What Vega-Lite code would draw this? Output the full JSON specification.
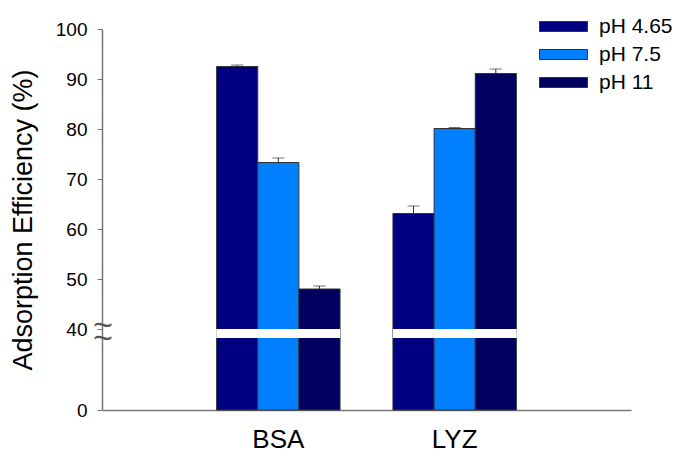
{
  "$schema": "https://vega.github.io/schema/vega-lite/v6.json",
  "width": 529,
  "height": 381,
  "autosize": "none",
  "padding": {"left": 102, "top": 29, "right": 54, "bottom": 55},
  "config": {
    "view": {"stroke": null},
    "font": "Liberation Sans",
    "axis": {"labelFont": "Liberation Sans", "titleFont": "Liberation Sans"},
    "legend": {"labelFont": "Liberation Sans"}
  },
  "data": {
    "values": [
      {"sample": "BSA", "pH": "pH 4.65", "value": 92.5, "upper": 92.8},
      {"sample": "BSA", "pH": "pH 7.5", "value": 73.3, "upper": 74.2},
      {"sample": "BSA", "pH": "pH 11", "value": 48.0, "upper": 48.6},
      {"sample": "LYZ", "pH": "pH 4.65", "value": 63.1, "upper": 64.6},
      {"sample": "LYZ", "pH": "pH 7.5", "value": 80.1, "upper": 80.3},
      {"sample": "LYZ", "pH": "pH 11", "value": 91.1, "upper": 92.0}
    ]
  },
  "layer": [
    {
      "layer": [
        {
          "mark": {"type": "bar", "stroke": "#333333", "strokeWidth": 1},
          "encoding": {
            "x": {
              "field": "sample", "type": "nominal",
              "scale": {"domain": ["BSA", "LYZ"], "paddingInner": 0.3, "paddingOuter": 0.65},
              "axis": {
                "title": null, "labelAngle": 0, "ticks": false, "labelFontSize": 26,
                "labelColor": "#000000", "labelPadding": 16, "domainColor": "#777777", "domainWidth": 1.5
              }
            },
            "xOffset": {
              "field": "pH", "type": "nominal",
              "scale": {"domain": ["pH 4.65", "pH 7.5", "pH 11"], "paddingInner": 0, "paddingOuter": 0}
            },
            "y": {
              "field": "value", "type": "quantitative",
              "scale": {"domain": [0, 40, 100], "range": [381, 300, 0], "zero": false, "nice": false},
              "axis": {
                "title": "Adsorption Efficiency (%)", "values": [0, 40, 50, 60, 70, 80, 90, 100],
                "grid": false, "labelFontSize": 19, "labelColor": "#000000", "labelPadding": 10,
                "tickSize": 5, "tickColor": "#777777", "domainColor": "#777777", "domainWidth": 1.5,
                "titleFontSize": 27, "titleFontWeight": "normal", "titleColor": "#000000", "titlePadding": 18
              }
            },
            "color": {
              "field": "pH", "type": "nominal",
              "scale": {"domain": ["pH 4.65", "pH 7.5", "pH 11"], "range": ["#000080", "#0080FF", "#00005E"]},
              "legend": {
                "title": null, "orient": "none", "legendX": 451, "legendY": -13,
                "symbolType": "M-2.4,-0.5H2.4V0.5H-2.4Z", "symbolSize": 400,
                "symbolStrokeColor": "#333333", "symbolStrokeWidth": 1, "symbolOpacity": 1,
                "labelFontSize": 21, "labelColor": "#000000", "labelOffset": 25, "rowPadding": 6
              }
            }
          }
        },
        {
          "mark": {"type": "bar", "color": "#ffffff"},
          "encoding": {
            "x": {"field": "sample", "type": "nominal"},
            "y": {"datum": 40},
            "y2": {"datum": 35.6}
          }
        },
        {
          "mark": {"type": "rule", "color": "#333333", "strokeWidth": 1},
          "encoding": {
            "x": {"field": "sample", "type": "nominal"},
            "xOffset": {"field": "pH", "type": "nominal"},
            "y": {"field": "value", "type": "quantitative"},
            "y2": {"field": "upper"}
          }
        },
        {
          "mark": {"type": "tick", "color": "#333333", "thickness": 1, "size": 12, "orient": "horizontal"},
          "encoding": {
            "x": {"field": "sample", "type": "nominal"},
            "xOffset": {"field": "pH", "type": "nominal"},
            "y": {"field": "upper", "type": "quantitative"}
          }
        }
      ]
    },
    {
      "data": {"values": [{"b": 40.6}, {"b": 35.0}]},
      "mark": {"type": "text", "text": "~", "fontSize": 34, "color": "#555555", "baseline": "middle", "dx": 1},
      "encoding": {
        "x": {"datum": 0, "type": "quantitative", "scale": {"domain": [0, 1]}, "axis": null},
        "y": {"field": "b", "type": "quantitative"}
      }
    }
  ],
  "resolve": {"scale": {"x": "independent"}}
}
